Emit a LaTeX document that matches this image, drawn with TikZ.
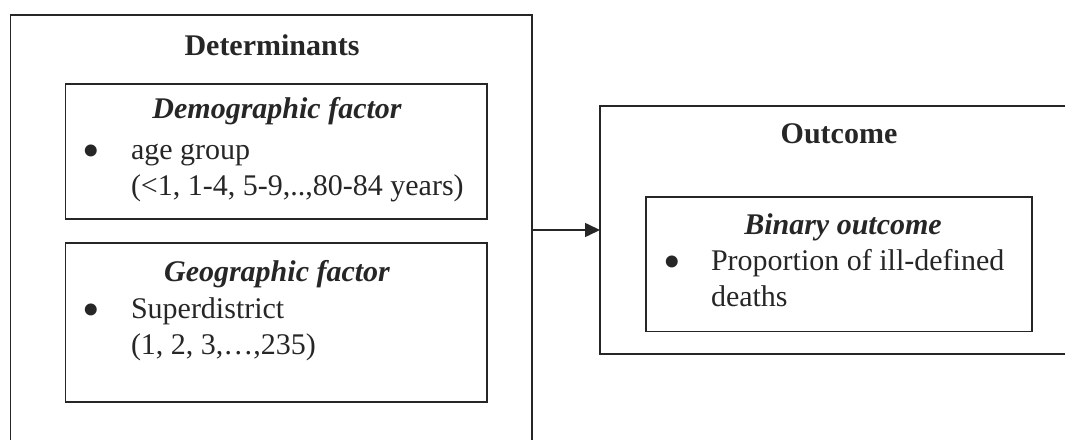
\documentclass[tikz,border=0pt]{standalone}
\usepackage{fontspec}
\setmainfont{Liberation Serif}
\usetikzlibrary{arrows.meta}
\definecolor{ink}{HTML}{262626}
\tikzset{
  frame/.style={draw=ink, line width=1.6pt, rectangle, inner sep=0pt, outer sep=0pt},
  txt/.style={inner sep=0pt, outer sep=0pt, text=ink, font=\fontsize{30}{36}\selectfont},
  heading/.style={txt, anchor=base, font=\fontsize{30}{36}\selectfont\bfseries},
  subhead/.style={txt, anchor=base, font=\fontsize{30}{36}\selectfont\bfseries\itshape},
  bul/.style={txt, anchor=base, font=\fontsize{50}{50}\selectfont},
  item/.style={txt, anchor=base west},
  link/.style={draw=ink, line width=1.6pt, -{Triangle[length=15pt,width=14pt]}}
}
\begin{document}
\begin{tikzpicture}[x=1pt,y=-1pt]
\useasboundingbox (0,0) rectangle (1065,439);
\clip (0,0) rectangle (1065,439);
% outer boxes
\node[frame, minimum width=521.7pt, minimum height=445pt] (det) at (271.2,237.5) {};
\node[frame, minimum width=478pt, minimum height=248pt] (out) at (839,230) {};
% inner boxes
\node[frame, minimum width=421.6pt, minimum height=135pt] (demo) at (276.2,151.5) {};
\node[frame, minimum width=421.6pt, minimum height=158.7pt] (geo) at (276.2,322.35) {};
\node[frame, minimum width=386.2pt, minimum height=134.8pt] (bin) at (838.9,264.1) {};
% texts
\node[heading] (tdet) at (272,55) {Determinants};
\node[subhead] (tdemo) at (277,118) {Demographic factor};
\node[bul] (b1) at (91.5,167) {•};
\node[item] (t1a) at (131,159) {age group};
\node[item] (t1b) at (131,195) {(<1, 1-4, 5-9,..,80-84 years)};
\node[subhead] (tgeo) at (277,281.7) {Geographic factor};
\node[bul] (b2) at (91.5,326) {•};
\node[item] (t2a) at (131,318) {Superdistrict};
\node[item] (t2b) at (131,354) {(1, 2, 3,…,235)};
\node[heading] (tout) at (839,143) {Outcome};
\node[subhead] (tbin) at (843,234) {Binary outcome};
\node[bul] (b3) at (672,278.7) {•};
\node[item] (t3a) at (711,270.7) {Proportion of ill-defined};
\node[item] (t3b) at (711,306.7) {deaths};
% connector
\draw[link] (det.east |- out.west) -- (out.west);
\end{tikzpicture}
\end{document}
